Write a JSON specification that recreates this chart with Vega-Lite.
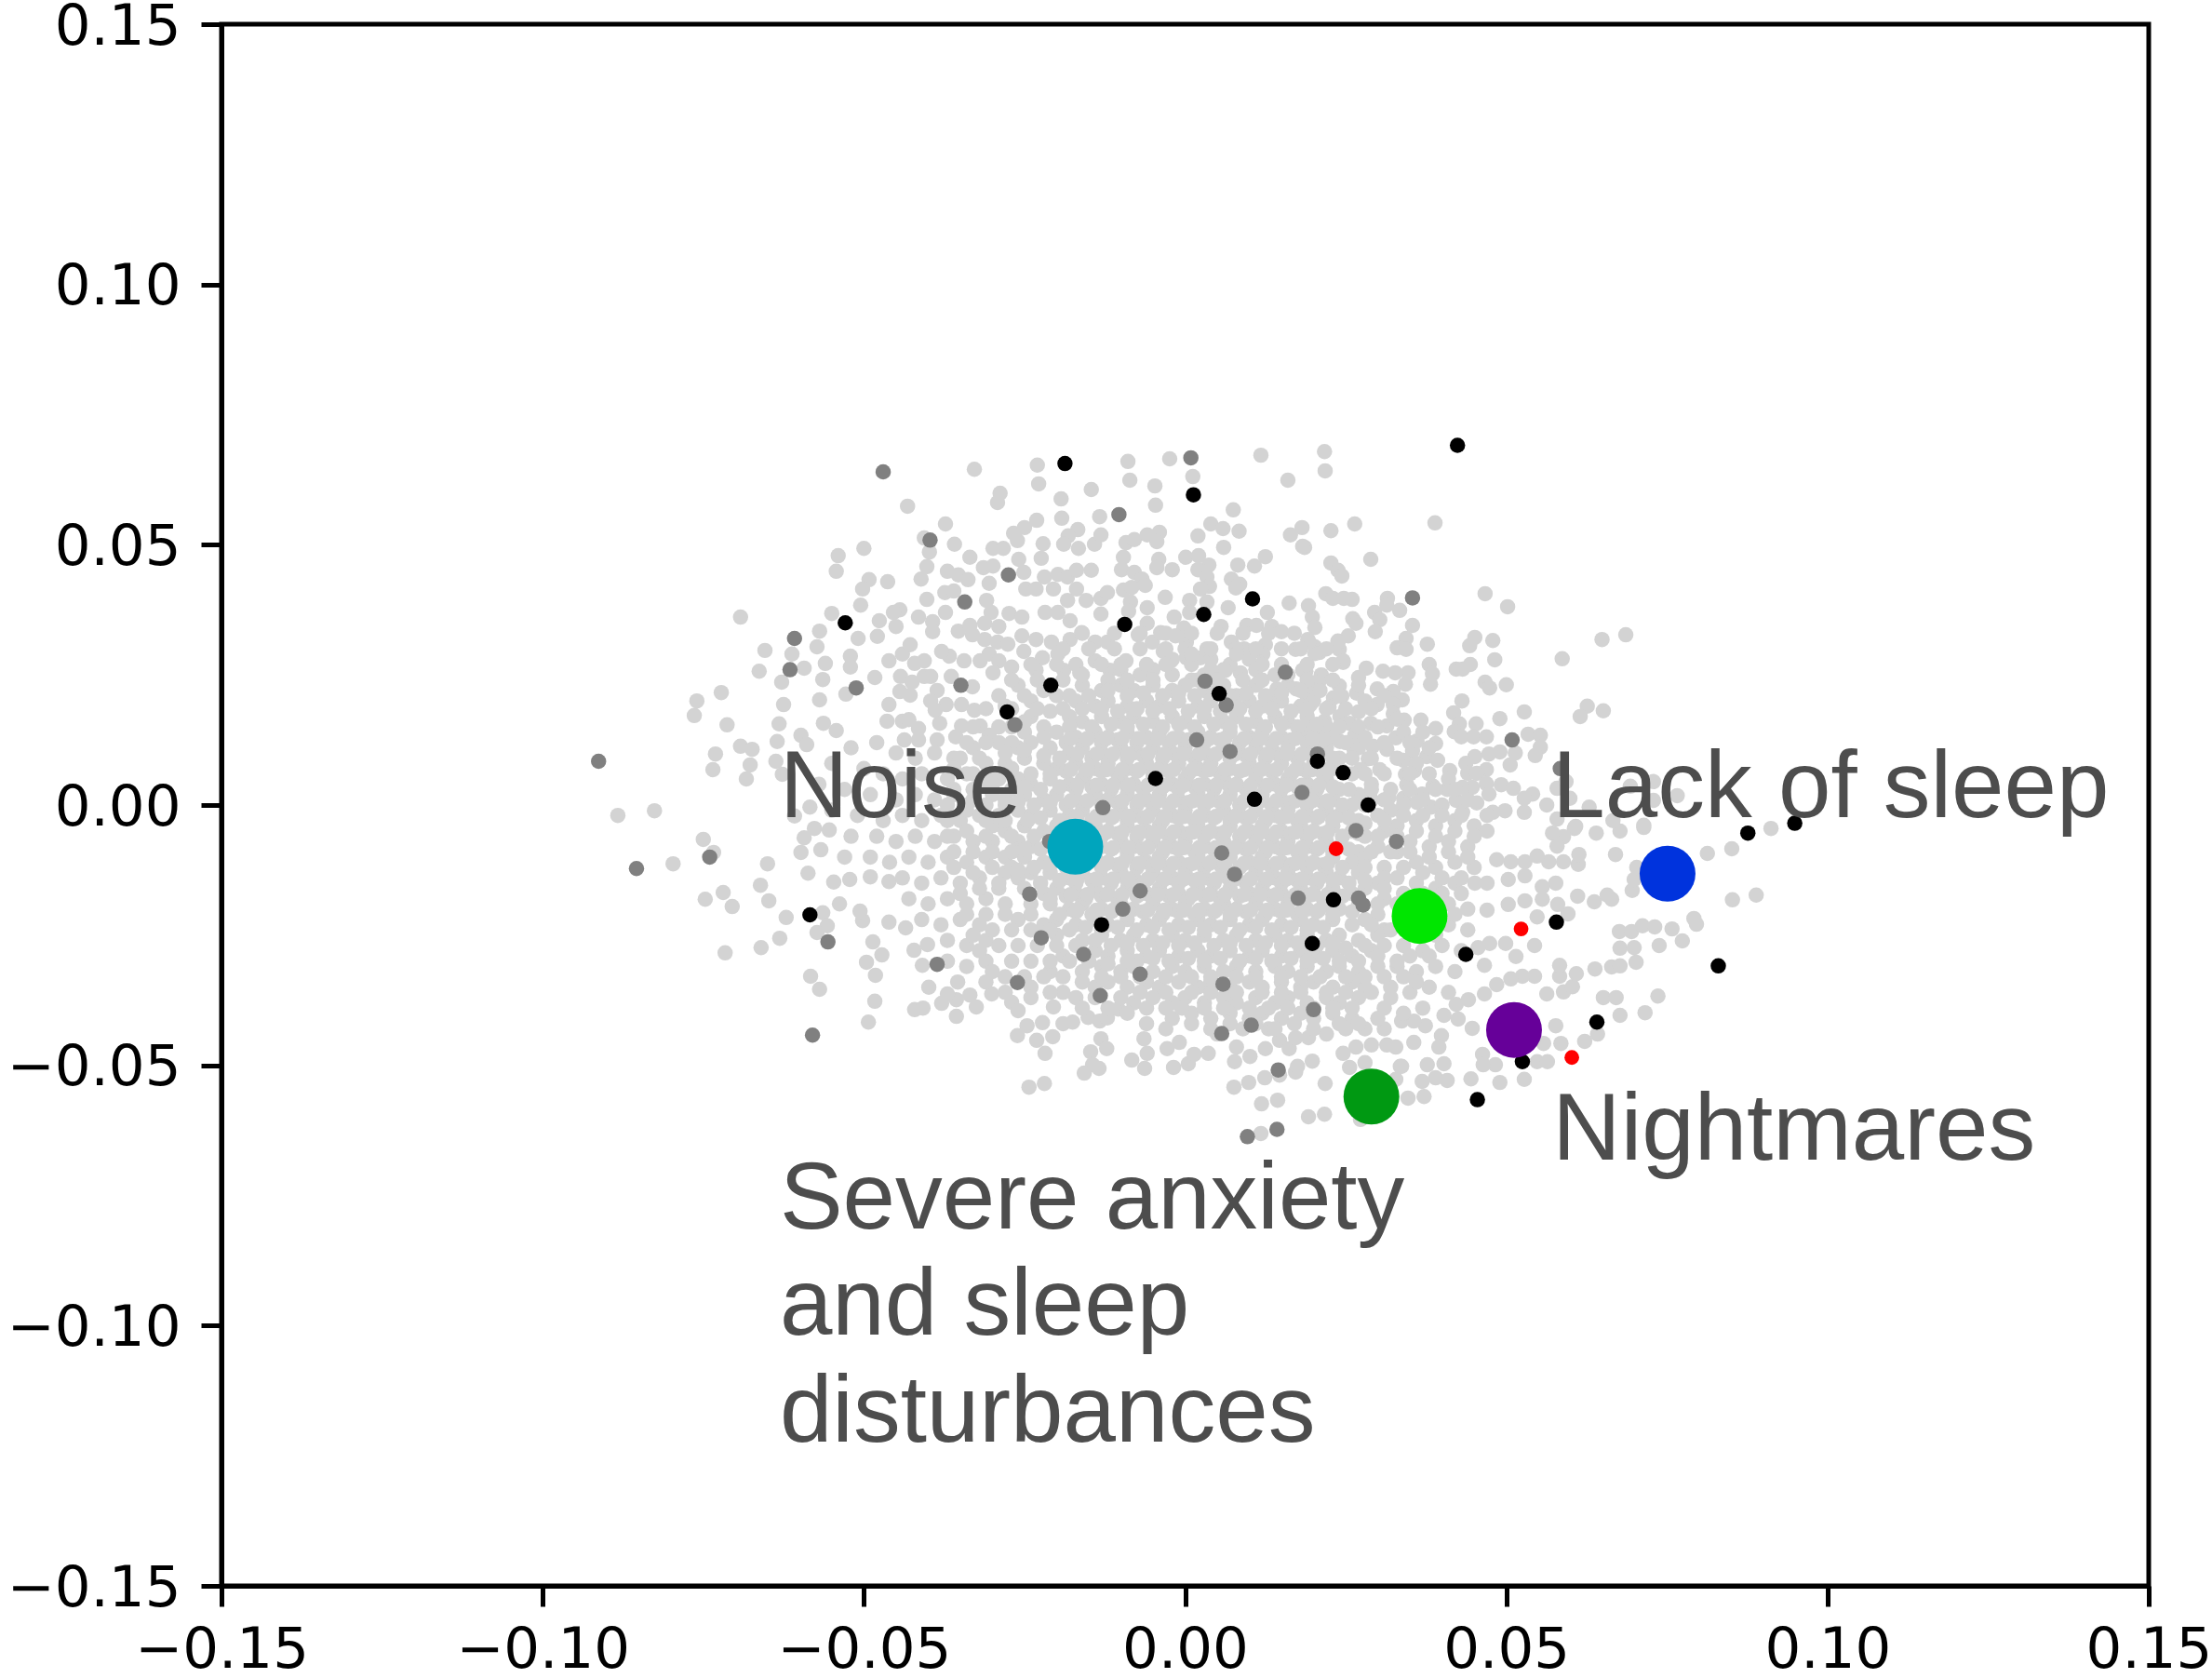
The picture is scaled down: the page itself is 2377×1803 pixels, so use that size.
{"$schema":"https://vega.github.io/schema/vega-lite/v6.json","width":2071,"height":1678,"autosize":"none","padding":{"left":238,"top":26,"right":68,"bottom":99},"background":"white","config":{"view":{"stroke":"#000000","strokeWidth":5}},
"datasets":{
"light":[
{"x":-0.0692,"y":0.0361},{"x":-0.05,"y":0.0493},{"x":-0.054,"y":0.0479},{"x":-0.0543,"y":0.0449},{"x":-0.0432,"y":0.0574},{"x":-0.0328,"y":0.0645},{"x":-0.023,"y":0.0653},{"x":-0.0228,"y":0.0617},{"x":-0.0288,"y":0.0599},{"x":-0.0292,"y":0.0581},{"x":-0.0146,"y":0.0606},{"x":-0.0193,"y":0.0588},{"x":-0.0089,"y":0.066},{"x":-0.0086,"y":0.0624},{"x":-0.0024,"y":0.0665},{"x":0.0012,"y":0.0631},{"x":-0.0047,"y":0.0613},{"x":-0.0046,"y":0.0576},{"x":-0.0373,"y":0.054},{"x":-0.0231,"y":0.0547},{"x":-0.0192,"y":0.0551},{"x":-0.0133,"y":0.0554},{"x":-0.0406,"y":0.0513},{"x":-0.0398,"y":0.0486},{"x":-0.0359,"y":0.0501},{"x":-0.0335,"y":0.0476},{"x":-0.0402,"y":0.0458},{"x":-0.0411,"y":0.0434},{"x":-0.0463,"y":0.0429},{"x":-0.0492,"y":0.0433},{"x":-0.0502,"y":0.0415},{"x":-0.0505,"y":0.0384},{"x":-0.0402,"y":0.0395},{"x":-0.055,"y":0.0368},{"x":-0.0476,"y":0.0354},{"x":-0.0569,"y":0.0334},{"x":-0.0509,"y":0.032},{"x":-0.0479,"y":0.0324},{"x":-0.0573,"y":0.0304},{"x":-0.0654,"y":0.0297},{"x":-0.0612,"y":0.029},{"x":-0.0593,"y":0.0263},{"x":-0.0663,"y":0.0257},{"x":-0.056,"y":0.0272},{"x":-0.0521,"y":0.0286},{"x":-0.0521,"y":0.0265},{"x":-0.0628,"y":0.0236},{"x":-0.0564,"y":0.0241},{"x":-0.0483,"y":0.0245},{"x":-0.0722,"y":0.0216},{"x":-0.076,"y":0.02},{"x":-0.0764,"y":0.0172},{"x":-0.0713,"y":0.0154},{"x":-0.0625,"y":0.0193},{"x":-0.0569,"y":0.0202},{"x":-0.0528,"y":0.0213},{"x":-0.0632,"y":0.0156},{"x":-0.0563,"y":0.0157},{"x":-0.0543,"y":0.0143},{"x":-0.0635,"y":0.0122},{"x":-0.0598,"y":0.0134},{"x":-0.0589,"y":0.0116},{"x":-0.0692,"y":0.0113},{"x":-0.0674,"y":0.0107},{"x":-0.0731,"y":0.0098},{"x":-0.0735,"y":0.0068},{"x":-0.0677,"y":0.0077},{"x":-0.0683,"y":0.005},{"x":-0.0637,"y":0.0084},{"x":-0.0627,"y":0.0059},{"x":-0.0826,"y":-0.0011},{"x":-0.0883,"y":-0.002},{"x":-0.075,"y":-0.0066},{"x":-0.0734,"y":-0.0091},{"x":-0.0797,"y":-0.0113},{"x":-0.065,"y":-0.0113},{"x":-0.0593,"y":-0.0063},{"x":-0.0567,"y":-0.0086},{"x":-0.0598,"y":-0.0091},{"x":-0.0587,"y":-0.0131},{"x":-0.0608,"y":-0.0021},{"x":-0.0584,"y":-0.0004},{"x":-0.0577,"y":-0.0045},{"x":-0.0554,"y":-0.0048},
{"x":-0.0661,"y":-0.0154},{"x":-0.0719,"y":-0.0168},{"x":-0.0747,"y":-0.0181},{"x":-0.0705,"y":-0.0195},{"x":-0.0648,"y":-0.0184},{"x":-0.0621,"y":-0.0216},{"x":-0.0564,"y":-0.0207},{"x":-0.0557,"y":-0.0232},{"x":-0.0573,"y":-0.0245},{"x":-0.0631,"y":-0.0256},{"x":-0.066,"y":-0.0274},{"x":-0.0716,"y":-0.0284},{"x":-0.0583,"y":-0.0329},{"x":-0.0569,"y":-0.0354},{"x":-0.0496,"y":-0.0302},{"x":-0.0482,"y":-0.0327},{"x":-0.0483,"y":-0.0377},{"x":-0.0493,"y":-0.0417},{"x":-0.0472,"y":-0.0288},{"x":-0.0486,"y":-0.0263},{"x":-0.0461,"y":-0.0225},{"x":-0.0435,"y":-0.0236},{"x":-0.0538,"y":-0.019},{"x":-0.0502,"y":-0.0222},{"x":-0.0506,"y":-0.0204},{"x":-0.0547,"y":-0.0148},{"x":-0.0522,"y":-0.0143},{"x":-0.049,"y":-0.0138},{"x":-0.0461,"y":-0.0147},{"x":-0.0421,"y":-0.0393},{"x":-0.0408,"y":-0.039},{"x":-0.0379,"y":-0.0381},{"x":-0.0356,"y":-0.0374},{"x":-0.037,"y":-0.0363},{"x":-0.0325,"y":-0.0388},{"x":-0.0335,"y":-0.0365},{"x":-0.0356,"y":-0.0406},{"x":-0.0399,"y":-0.035},{"x":-0.0409,"y":-0.0308},{"x":-0.0301,"y":-0.0363},{"x":-0.0354,"y":-0.034},{"x":-0.0422,"y":-0.0279},{"x":-0.0401,"y":-0.0268},{"x":-0.027,"y":-0.0379},{"x":-0.026,"y":-0.0395},{"x":-0.0246,"y":-0.0424},{"x":-0.0261,"y":-0.0443},{"x":-0.0231,"y":-0.0452},{"x":-0.0206,"y":-0.0445},{"x":-0.0222,"y":-0.0418},{"x":-0.0218,"y":-0.0477},{"x":-0.0205,"y":-0.0388},{"x":-0.019,"y":-0.042},{"x":-0.0175,"y":-0.0417},{"x":-0.0151,"y":-0.0408},{"x":-0.0133,"y":-0.0415},{"x":-0.0121,"y":-0.0409},{"x":-0.0104,"y":-0.0392},{"x":-0.0131,"y":-0.0449},{"x":-0.0122,"y":-0.0468},{"x":-0.0147,"y":-0.0474},{"x":-0.0144,"y":-0.0499},{"x":-0.0134,"y":-0.0506},{"x":-0.0157,"y":-0.0515},{"x":-0.0083,"y":-0.049},{"x":-0.0063,"y":-0.0506},{"x":-0.0018,"y":-0.0504},{"x":0.0005,"y":-0.0497},{"x":-0.0059,"y":-0.0477},{"x":-0.0028,"y":-0.0468},{"x":-0.0064,"y":-0.0449},{"x":-0.0009,"y":-0.0456},{"x":-0.0243,"y":-0.0542},{"x":-0.0219,"y":-0.0535},
{"x":0.0036,"y":-0.0477},{"x":0.0014,"y":-0.0479},{"x":0.0077,"y":-0.0493},{"x":0.0101,"y":-0.0483},{"x":0.008,"y":-0.0465},{"x":0.0125,"y":-0.0468},{"x":0.0147,"y":-0.0452},{"x":0.0162,"y":-0.0468},{"x":0.0172,"y":-0.0447},{"x":0.0192,"y":-0.0447},{"x":0.0076,"y":-0.0542},{"x":0.0099,"y":-0.0533},{"x":0.0124,"y":-0.0524},{"x":0.0147,"y":-0.0519},{"x":0.0172,"y":-0.0513},{"x":0.0175,"y":-0.0502},{"x":0.0198,"y":-0.0492},{"x":0.0218,"y":-0.0535},{"x":0.0119,"y":-0.0574},{"x":0.0144,"y":-0.0567},{"x":0.0192,"y":-0.0599},{"x":0.0217,"y":-0.0594},{"x":0.0118,"y":-0.0631},{"x":0.0246,"y":-0.0477},{"x":0.0256,"y":-0.0504},{"x":0.028,"y":-0.0495},{"x":0.0335,"y":-0.0502},{"x":0.0328,"y":-0.0527},{"x":0.0347,"y":-0.0563},{"x":0.0273,"y":-0.0604},{"x":0.0266,"y":-0.0465},{"x":0.029,"y":-0.0461},{"x":0.0328,"y":-0.0465},{"x":0.0314,"y":-0.0461},
{"x":0.0372,"y":-0.056},{"x":0.0369,"y":-0.0531},{"x":0.039,"y":-0.0524},{"x":0.0408,"y":-0.0529},{"x":0.0445,"y":-0.0526},{"x":0.049,"y":-0.0533},{"x":0.0528,"y":-0.0527},{"x":0.0548,"y":-0.0493},{"x":0.0564,"y":-0.0493},{"x":0.0585,"y":-0.0458},{"x":0.0622,"y":-0.0454},{"x":0.0642,"y":-0.044},{"x":0.0577,"y":-0.0424},{"x":0.0558,"y":-0.0458},{"x":0.0677,"y":-0.0404},{"x":0.0716,"y":-0.0399},{"x":0.0736,"y":-0.0367},{"x":0.0651,"y":-0.037},{"x":0.0671,"y":-0.037},{"x":0.0463,"y":-0.0479},{"x":0.0483,"y":-0.0499},{"x":0.0464,"y":-0.0499},{"x":0.0447,"y":-0.0429},{"x":0.0399,"y":-0.0443},{"x":0.0395,"y":-0.0465},{"x":0.0374,"y":-0.0424},{"x":0.0356,"y":-0.0415},{"x":0.0337,"y":-0.0415},{"x":0.0356,"y":-0.0456},{"x":0.0337,"y":-0.0502},{"x":0.0377,"y":-0.0499},{"x":0.0403,"y":-0.0497},{"x":0.0563,"y":-0.0363},{"x":0.0544,"y":-0.0329},{"x":0.0525,"y":-0.0329},{"x":0.0507,"y":-0.0334},{"x":0.0485,"y":-0.0345},{"x":0.0466,"y":-0.0363},{"x":0.0441,"y":-0.0374},{"x":0.0422,"y":-0.0383},{"x":0.0403,"y":-0.0404},{"x":0.0425,"y":-0.0411},{"x":0.0589,"y":-0.0359},{"x":0.0603,"y":-0.0349},{"x":0.0609,"y":-0.0324},{"x":0.0583,"y":-0.0329},{"x":0.0583,"y":-0.0308},{"x":0.0638,"y":-0.0315},{"x":0.0664,"y":-0.0311},{"x":0.0677,"y":-0.0309},{"x":0.0702,"y":-0.0302},{"x":0.0677,"y":-0.0275},{"x":0.0699,"y":-0.0274},{"x":0.0738,"y":-0.027},{"x":0.0774,"y":-0.0261},{"x":0.0676,"y":-0.0243},{"x":0.0695,"y":-0.0243},{"x":0.0712,"y":-0.0232},{"x":0.0731,"y":-0.0234},{"x":0.0758,"y":-0.0238},{"x":0.0792,"y":-0.0218},{"x":0.0796,"y":-0.0229},{"x":0.0852,"y":-0.0182},{"x":0.0889,"y":-0.0173},{"x":0.0696,"y":-0.0164},{"x":0.0699,"y":-0.0143},{"x":0.0703,"y":-0.012},{"x":0.0611,"y":-0.0175},{"x":0.0637,"y":-0.0186},{"x":0.0657,"y":-0.0173},{"x":0.0664,"y":-0.0181},{"x":0.067,"y":-0.0095},{"x":0.0813,"y":-0.0093},{"x":0.0851,"y":-0.0084},{"x":0.0912,"y":-0.0045},{"x":0.0714,"y":-0.0043},{"x":0.064,"y":-0.0054},{"x":0.0677,"y":-0.005},{"x":0.0666,"y":-0.003},{"x":0.0606,"y":-0.0045},{"x":0.0589,"y":-0.0061},{"x":0.0572,"y":-0.0054},{"x":0.0579,"y":-0.0079},{"x":0.0612,"y":-0.0114},{"x":0.0613,"y":-0.0095},{"x":0.0589,"y":-0.0109},{"x":0.0566,"y":-0.0109},{"x":0.0548,"y":-0.0098},{"x":0.0529,"y":-0.0109},{"x":0.0507,"y":-0.0109},{"x":0.0485,"y":-0.0105},{"x":0.0577,"y":-0.015},{"x":0.0556,"y":-0.0157},{"x":0.0529,"y":-0.0136},{"x":0.0503,"y":-0.0143},{"x":0.047,"y":-0.015},{"x":0.0451,"y":-0.015},{"x":0.0556,"y":-0.0181},{"x":0.0529,"y":-0.0184},{"x":0.0503,"y":-0.0191},{"x":0.047,"y":-0.0202},{"x":0.0596,"y":-0.0209},{"x":0.058,"y":-0.0191},{"x":0.0548,"y":-0.0215},{"x":0.0544,"y":-0.027},{"x":0.0515,"y":-0.0291},{"x":0.0499,"y":-0.0266},{"x":0.0474,"y":-0.0266},{"x":0.0456,"y":-0.0274},{"x":0.0466,"y":-0.0308},
{"x":0.0289,"y":0.0472},{"x":0.0227,"y":0.0527},{"x":0.0264,"y":0.054},{"x":0.0389,"y":0.0542},{"x":0.0186,"y":0.0495},{"x":0.0227,"y":0.0465},{"x":0.0238,"y":0.0451},{"x":0.0244,"y":0.044},{"x":0.0467,"y":0.0406},{"x":0.0502,"y":0.0381},{"x":0.0219,"y":0.0406},{"x":0.023,"y":0.0397},{"x":0.0247,"y":0.0397},{"x":0.026,"y":0.0395},{"x":0.0315,"y":0.0397},{"x":0.0314,"y":0.0384},{"x":0.0334,"y":0.0374},{"x":0.0354,"y":0.0345},{"x":0.0192,"y":0.0383},{"x":0.0198,"y":0.0361},{"x":0.0202,"y":0.0341},{"x":0.0295,"y":0.037},{"x":0.0303,"y":0.0356},{"x":0.0296,"y":0.0333},{"x":0.0261,"y":0.0358},{"x":0.0266,"y":0.0349},{"x":0.0254,"y":0.0325},{"x":0.0238,"y":0.0315},{"x":0.024,"y":0.0299},{"x":0.0246,"y":0.0274},{"x":0.0191,"y":0.0318},{"x":0.0202,"y":0.0304},{"x":0.0209,"y":0.0293},{"x":0.0344,"y":0.032},{"x":0.033,"y":0.0302},{"x":0.0344,"y":0.0299},{"x":0.0377,"y":0.0309},{"x":0.0451,"y":0.0322},{"x":0.0443,"y":0.0306},{"x":0.0479,"y":0.0316},{"x":0.0482,"y":0.0279},{"x":0.0649,"y":0.0318},{"x":0.0686,"y":0.0327},{"x":0.0587,"y":0.0281},{"x":0.0422,"y":0.0261},{"x":0.0432,"y":0.0261},{"x":0.0444,"y":0.027},{"x":0.038,"y":0.027},{"x":0.0385,"y":0.0252},{"x":0.0382,"y":0.0232},{"x":0.0347,"y":0.0254},{"x":0.0343,"y":0.0232},{"x":0.0327,"y":0.0254},{"x":0.0308,"y":0.0257},{"x":0.0282,"y":0.0263},{"x":0.027,"y":0.0245},{"x":0.0212,"y":0.025},{"x":0.0206,"y":0.0236},{"x":0.0188,"y":0.0257},{"x":0.0467,"y":0.0236},{"x":0.0474,"y":0.0225},{"x":0.05,"y":0.0231},{"x":0.0431,"y":0.02},{"x":0.0418,"y":0.0177},{"x":0.0427,"y":0.0156},{"x":0.0419,"y":0.0141},{"x":0.043,"y":0.0131},{"x":0.0453,"y":0.0156},{"x":0.0449,"y":0.0131},{"x":0.0469,"y":0.0131},{"x":0.049,"y":0.0166},{"x":0.0528,"y":0.0179},{"x":0.0534,"y":0.0136},{"x":0.0553,"y":0.0134},{"x":0.0553,"y":0.0111},{"x":0.0545,"y":0.0095},{"x":0.0626,"y":0.019},{"x":0.0651,"y":0.0181},{"x":0.0615,"y":0.017},{"x":0.039,"y":0.0147},{"x":0.039,"y":0.0118},{"x":0.0367,"y":0.0163},{"x":0.0341,"y":0.0163},{"x":0.0361,"y":0.0123},{"x":0.0354,"y":0.0104},{"x":0.0376,"y":0.0093},{"x":0.0393,"y":0.0086},{"x":0.0412,"y":0.0066},{"x":0.0514,"y":0.01},{"x":0.049,"y":0.0102},{"x":0.0473,"y":0.0098},{"x":0.0451,"y":0.0093},{"x":0.0437,"y":0.008},{"x":0.0506,"y":0.0077},{"x":0.0469,"y":0.0068},{"x":0.044,"y":0.0061},{"x":0.0454,"y":0.0061},{"x":0.0469,"y":0.0041},{"x":0.0492,"y":0.0039},{"x":0.0511,"y":0.0032},{"x":0.0473,"y":0.0021},{"x":0.0447,"y":0.0034},{"x":0.0432,"y":0.0034},{"x":0.0408,"y":0.003},{"x":0.0386,"y":0.0036},{"x":0.0369,"y":0.0021},{"x":0.0361,"y":0.0005},{"x":0.0422,"y":0.0009},{"x":0.0454,"y":0.0004},{"x":0.0383,"y":-0.0004},{"x":0.0432,"y":-0.0014},{"x":0.0498,"y":-0.0011},{"x":0.0479,"y":-0.0014},{"x":0.0528,"y":-0.0014},{"x":0.0541,"y":0.0021},{"x":0.0528,"y":0.0013},{"x":0.0563,"y":0},{"x":0.0579,"y":0.0032},{"x":0.0593,"y":0.0045},{"x":0.0599,"y":0.0013},{"x":0.0693,"y":0.0036},{"x":0.0729,"y":0.0045},{"x":0.0766,"y":0.0018},{"x":0.0729,"y":0.0009},{"x":0.0629,"y":-0.0004},{"x":0.0714,"y":-0.0039},{"x":0.0579,"y":-0.0027},{"x":0.0608,"y":-0.0041},
{"x":0.0267,"y":0.0215},{"x":0.024,"y":0.0229},{"x":0.0231,"y":0.0206},{"x":0.0244,"y":0.0209},{"x":0.0224,"y":0.0188},{"x":0.0195,"y":0.0215},{"x":0.0195,"y":0.0193},{"x":0.0299,"y":0.0223},{"x":0.0324,"y":0.0218},{"x":0.0338,"y":0.0202},{"x":0.0299,"y":0.0193},{"x":0.0324,"y":0.0193},{"x":0.027,"y":0.0179},{"x":0.0241,"y":0.017},{"x":0.0256,"y":0.0157},{"x":0.0217,"y":0.0161},{"x":0.0193,"y":0.0152},{"x":0.0289,"y":0.0157},{"x":0.0324,"y":0.0175},{"x":0.0314,"y":0.0152},{"x":0.0328,"y":0.0129},{"x":0.0264,"y":0.0134},{"x":0.0241,"y":0.0122},{"x":0.0208,"y":0.0131},{"x":0.0263,"y":0.0107},{"x":0.0292,"y":0.0113},{"x":0.0314,"y":0.0107},{"x":0.0285,"y":0.0089},{"x":0.0303,"y":0.0068},{"x":0.034,"y":0.0086},{"x":0.0357,"y":0.0066},{"x":0.0343,"y":0.0059},{"x":0.0345,"y":0.0039},{"x":0.034,"y":0.0013},{"x":0.0317,"y":0.0014},{"x":0.0273,"y":0.0068},
{"x":-0.0299,"y":0.0493},{"x":-0.0283,"y":0.0493},{"x":-0.0259,"y":0.0472},{"x":-0.0224,"y":0.0474},{"x":-0.0221,"y":0.0502},{"x":-0.0261,"y":0.0508},{"x":-0.0267,"y":0.0522},{"x":-0.025,"y":0.0533},{"x":-0.0167,"y":0.0529},{"x":-0.0182,"y":0.0517},{"x":-0.0189,"y":0.0501},{"x":-0.0166,"y":0.0493},{"x":-0.0141,"y":0.0501},{"x":-0.0131,"y":0.0519},{"x":-0.0092,"y":0.0504},{"x":-0.0079,"y":0.051},{"x":-0.0059,"y":0.0519},{"x":-0.004,"y":0.0524},{"x":-0.0044,"y":0.0506},{"x":-0.0096,"y":0.0476},{"x":-0.0099,"y":0.0452},{"x":-0.0079,"y":0.0447},{"x":-0.0067,"y":0.0434},{"x":-0.0062,"y":0.0422},{"x":-0.0096,"y":0.0413},{"x":-0.0083,"y":0.0418},{"x":-0.0085,"y":0.039},{"x":-0.0088,"y":0.0372},{"x":-0.0059,"y":0.0379},{"x":0.0001,"y":0.0476},{"x":0.0021,"y":0.0479},{"x":-0.0041,"y":0.0472},{"x":-0.0044,"y":0.0456},{"x":-0.002,"y":0.0452},{"x":0.002,"y":0.0517},{"x":0.004,"y":0.054},{"x":0.0059,"y":0.0531},{"x":0.0075,"y":0.0567},{"x":0.0084,"y":0.0526},{"x":0.006,"y":0.0495},{"x":0.0118,"y":0.0672},{"x":0.0217,"y":0.0679},{"x":0.0218,"y":0.0642},{"x":0.016,"y":0.0624},{"x":0.0182,"y":0.0533},{"x":0.0164,"y":0.0519},{"x":0.0183,"y":0.0497},{"x":0.0125,"y":0.0477},{"x":0.0108,"y":0.0459},{"x":0.0082,"y":0.0461},{"x":0.0037,"y":0.0461},{"x":0.002,"y":0.0452},{"x":0.0034,"y":0.0438},{"x":0.0038,"y":0.042},{"x":0.0024,"y":0.0415},{"x":0.0007,"y":0.0393},{"x":0.0034,"y":0.039},{"x":0.0007,"y":0.037},{"x":0.0067,"y":0.0379},{"x":0.0072,"y":0.0434},{"x":0.0085,"y":0.0424},{"x":0.0079,"y":0.0417},{"x":0.0162,"y":0.0388},{"x":0.0128,"y":0.037},{"x":0.0096,"y":0.0345},{"x":0.0111,"y":0.0345},{"x":0.0135,"y":0.0343},{"x":0.015,"y":0.0333},
{"x":-0.0314,"y":0.0456},{"x":-0.0299,"y":0.0459},{"x":-0.037,"y":0.0449},{"x":-0.0353,"y":0.0442},{"x":-0.0338,"y":0.0433},{"x":-0.0251,"y":0.0447},{"x":-0.0219,"y":0.0438},{"x":-0.0198,"y":0.0443},{"x":-0.0183,"y":0.0438},{"x":-0.0169,"y":0.0451},{"x":-0.0146,"y":0.0451},{"x":-0.0205,"y":0.0415},{"x":-0.0169,"y":0.0415},{"x":-0.0248,"y":0.0415},{"x":-0.0232,"y":0.0415},{"x":-0.0305,"y":0.0426},{"x":-0.0309,"y":0.0393},{"x":-0.0302,"y":0.037},{"x":-0.0274,"y":0.0368},{"x":-0.0374,"y":0.0408},{"x":-0.036,"y":0.0411},{"x":-0.0373,"y":0.037},{"x":-0.0415,"y":0.0361},{"x":-0.0444,"y":0.0375},{"x":-0.0454,"y":0.037},{"x":-0.0393,"y":0.0352},{"x":-0.0393,"y":0.0333},{"x":-0.045,"y":0.0343},{"x":-0.0353,"y":0.0334},{"x":-0.0335,"y":0.0345},{"x":-0.0312,"y":0.0349},{"x":-0.029,"y":0.0343},{"x":-0.0331,"y":0.0327},{"x":-0.0312,"y":0.0318},{"x":-0.0292,"y":0.0313},{"x":-0.0276,"y":0.0309},{"x":-0.0254,"y":0.0361},{"x":-0.0254,"y":0.0325},{"x":-0.0232,"y":0.0318},{"x":-0.0218,"y":0.037},{"x":-0.0198,"y":0.037},{"x":-0.0183,"y":0.0393},{"x":-0.0179,"y":0.0354},{"x":-0.0154,"y":0.0393},{"x":-0.0131,"y":0.0397},{"x":-0.0131,"y":0.0367},{"x":-0.0121,"y":0.0408},{"x":-0.0161,"y":0.0331},{"x":-0.0208,"y":0.0313},{"x":-0.0179,"y":0.0318},{"x":-0.014,"y":0.0313},{"x":-0.0121,"y":0.0313},{"x":-0.0073,"y":0.0327},{"x":-0.0051,"y":0.0313},{"x":-0.0059,"y":0.0349},{"x":-0.0038,"y":0.0331},{"x":-0.0031,"y":0.0399},{"x":-0.0017,"y":0.0361},{"x":-0.0002,"y":0.034},{"x":-0.0015,"y":0.0325},{"x":0.0002,"y":0.0313},{"x":0.0034,"y":0.03},{"x":0.0056,"y":0.0343},{"x":0.0072,"y":0.0313},{"x":0.0092,"y":0.03},{"x":0.0125,"y":0.0308},{"x":0.0172,"y":0.0299},{"x":0.0121,"y":0.029},{"x":0.0202,"y":0.0291},{"x":0.0193,"y":0.0313},{"x":0.0238,"y":0.0313},{"x":0.0246,"y":0.0277},{"x":0.0212,"y":0.0247},{"x":0.0183,"y":0.0259},{"x":0.0208,"y":0.0236},{"x":0.0173,"y":0.0223},{"x":0.0143,"y":0.0223},{"x":0.0115,"y":0.0236},{"x":0.0086,"y":0.0254},{"x":0.0063,"y":0.0259},{"x":0.0024,"y":0.0283},{"x":0.0002,"y":0.0283},{"x":-0.0034,"y":0.0295},{"x":-0.0022,"y":0.0277},{"x":-0.0059,"y":0.0259},{"x":-0.0092,"y":0.0277},{"x":-0.0117,"y":0.0259},{"x":-0.014,"y":0.0277},{"x":-0.0164,"y":0.0254},{"x":-0.0198,"y":0.029},{"x":-0.0189,"y":0.0259},{"x":-0.0222,"y":0.0283},{"x":-0.0251,"y":0.0295},{"x":-0.0232,"y":0.0259},{"x":-0.0305,"y":0.029},{"x":-0.0319,"y":0.0277},{"x":-0.029,"y":0.0277},{"x":-0.027,"y":0.0265},{"x":-0.0299,"y":0.0254},{"x":-0.0344,"y":0.0277},{"x":-0.0367,"y":0.0286},{"x":-0.0379,"y":0.0295},{"x":-0.0406,"y":0.0277},{"x":-0.0421,"y":0.0272},{"x":-0.044,"y":0.029},{"x":-0.0428,"y":0.0308},{"x":-0.0461,"y":0.0277},{"x":-0.0443,"y":0.0247},{"x":-0.0406,"y":0.0247},{"x":-0.0396,"y":0.0247},{"x":-0.0425,"y":0.0236},{"x":-0.0444,"y":0.0218},{"x":-0.0428,"y":0.0211},{"x":-0.0386,"y":0.022},{"x":-0.0364,"y":0.0247},{"x":-0.0331,"y":0.0227},{"x":-0.0396,"y":0.02},{"x":-0.0372,"y":0.0193},{"x":-0.0348,"y":0.0193},{"x":-0.0461,"y":0.0193},{"x":-0.0389,"y":0.0182},{"x":-0.044,"y":0.0161},{"x":-0.0415,"y":0.0147},{"x":-0.043,"y":0.0164},{"x":-0.0464,"y":0.0161},{"x":-0.0382,"y":0.0157},{"x":-0.0328,"y":0.0182},{"x":-0.0348,"y":0.0152},{"x":-0.0319,"y":0.0152},{"x":-0.0437,"y":0.0125},{"x":-0.0415,"y":0.0125},{"x":-0.0386,"y":0.0125},{"x":-0.0357,"y":0.0131},{"x":-0.0305,"y":0.0134},
{"x":-0.052,"y":0.011},{"x":-0.048,"y":0.012},{"x":-0.045,"y":0.01},{"x":-0.042,"y":0.009},{"x":-0.039,"y":0.01},{"x":-0.036,"y":0.009},{"x":-0.033,"y":0.011},{"x":-0.031,"y":0.008},{"x":-0.055,"y":0.008},{"x":-0.05,"y":0.007},{"x":-0.047,"y":0.006},{"x":-0.044,"y":0.005},{"x":-0.041,"y":0.006},{"x":-0.037,"y":0.005},{"x":-0.034,"y":0.006},{"x":-0.031,"y":0.004},{"x":-0.057,"y":0.004},{"x":-0.053,"y":0.003},{"x":-0.049,"y":0.002},{"x":-0.045,"y":0.001},{"x":-0.042,"y":0.002},{"x":-0.039,"y":0.001},{"x":-0.036,"y":0.002},{"x":-0.033,"y":0.001},{"x":-0.055,"y":-0.001},{"x":-0.051,"y":-0.002},{"x":-0.047,"y":-0.003},{"x":-0.044,"y":-0.002},{"x":-0.041,"y":-0.003},{"x":-0.038,"y":-0.002},{"x":-0.035,"y":-0.003},{"x":-0.032,"y":-0.002},{"x":-0.052,"y":-0.006},{"x":-0.048,"y":-0.006},{"x":-0.045,"y":-0.007},{"x":-0.042,"y":-0.006},{"x":-0.039,"y":-0.007},{"x":-0.036,"y":-0.006},{"x":-0.033,"y":-0.007},{"x":-0.053,"y":-0.01},{"x":-0.049,"y":-0.01},{"x":-0.046,"y":-0.011},{"x":-0.043,"y":-0.01},{"x":-0.04,"y":-0.011},{"x":-0.037,"y":-0.01},{"x":-0.034,"y":-0.011},{"x":-0.031,"y":-0.01},{"x":-0.044,"y":-0.014},{"x":-0.041,"y":-0.015},{"x":-0.038,"y":-0.014},{"x":-0.035,"y":-0.015},{"x":-0.032,"y":-0.014},{"x":-0.043,"y":-0.018},{"x":-0.04,"y":-0.019},{"x":-0.037,"y":-0.018},{"x":-0.034,"y":-0.019},{"x":-0.031,"y":-0.018},{"x":-0.041,"y":-0.022},{"x":-0.038,"y":-0.023},{"x":-0.035,"y":-0.022},{"x":-0.032,"y":-0.023},{"x":-0.037,"y":-0.026},{"x":-0.034,"y":-0.027},{"x":-0.031,"y":-0.026},{"x":-0.037,"y":-0.03},{"x":-0.034,"y":-0.031},{"x":-0.031,"y":-0.03},{"x":-0.031,"y":-0.034},{"x":-0.028,"y":-0.036},
{"x":0.036,"y":-0.003},{"x":0.039,"y":-0.004},{"x":0.042,"y":-0.003},{"x":0.045,"y":-0.004},{"x":0.047,"y":-0.005},{"x":0.035,"y":-0.007},{"x":0.038,"y":-0.008},{"x":0.041,"y":-0.007},{"x":0.044,"y":-0.008},{"x":0.036,"y":-0.011},{"x":0.039,"y":-0.012},{"x":0.042,"y":-0.011},{"x":0.045,"y":-0.012},{"x":0.036,"y":-0.015},{"x":0.039,"y":-0.016},{"x":0.042,"y":-0.015},{"x":0.035,"y":-0.019},{"x":0.038,"y":-0.02},{"x":0.041,"y":-0.019},{"x":0.044,"y":-0.02},{"x":0.035,"y":-0.023},{"x":0.038,"y":-0.024},{"x":0.041,"y":-0.023},{"x":0.044,"y":-0.024},{"x":0.034,"y":-0.027},{"x":0.037,"y":-0.028},{"x":0.04,"y":-0.027},{"x":0.043,"y":-0.028},{"x":0.033,"y":-0.031},{"x":0.036,"y":-0.032},{"x":0.039,"y":-0.031},{"x":0.042,"y":-0.032},{"x":0.032,"y":-0.035},{"x":0.035,"y":-0.036},{"x":0.038,"y":-0.035},{"x":0.041,"y":-0.036},{"x":0.031,"y":-0.039},{"x":0.034,"y":-0.04},{"x":0.037,"y":-0.039},{"x":0.028,"y":-0.043},{"x":0.031,"y":-0.043},
{"x":-0.002,"y":0.028},{"x":0.001,"y":0.027},{"x":0.004,"y":0.028},{"x":0.007,"y":0.027},{"x":0.01,"y":0.028},{"x":-0.01,"y":0.026},{"x":-0.007,"y":0.025},{"x":-0.005,"y":0.026},{"x":-0.002,"y":0.025},{"x":0.001,"y":0.024},{"x":0.003,"y":0.025},{"x":0.006,"y":0.026},{"x":0.009,"y":0.024},{"x":0.011,"y":0.026},{"x":0.014,"y":0.025},{"x":-0.016,"y":0.023},{"x":-0.013,"y":0.022},{"x":-0.01,"y":0.023},{"x":-0.008,"y":0.022},{"x":-0.005,"y":0.023},{"x":-0.002,"y":0.022},{"x":0,"y":0.023},{"x":0.003,"y":0.022},{"x":0.006,"y":0.023},{"x":0.008,"y":0.021},{"x":0.011,"y":0.023},{"x":0.014,"y":0.021},{"x":0.016,"y":0.023},{"x":0.019,"y":0.021},{"x":-0.02,"y":0.021},{"x":-0.017,"y":0.02},{"x":-0.014,"y":0.019},{"x":-0.012,"y":0.02},{"x":-0.009,"y":0.019},{"x":-0.006,"y":0.02},{"x":-0.004,"y":0.019},{"x":-0.001,"y":0.02},{"x":0.002,"y":0.019},{"x":0.004,"y":0.02},{"x":0.007,"y":0.019},{"x":0.01,"y":0.02},{"x":0.012,"y":0.019},{"x":0.015,"y":0.02},{"x":0.018,"y":0.019},{"x":0.02,"y":0.02},{"x":-0.026,"y":0.023},{"x":-0.024,"y":0.02},{"x":-0.028,"y":0.019},{"x":-0.024,"y":0.017},{"x":-0.021,"y":0.018},{"x":-0.018,"y":0.017},{"x":-0.016,"y":0.016},{"x":-0.013,"y":0.017},{"x":-0.01,"y":0.016},{"x":-0.008,"y":0.017},{"x":-0.005,"y":0.016},{"x":-0.002,"y":0.017},{"x":0,"y":0.016},{"x":0.003,"y":0.017},{"x":0.006,"y":0.016},{"x":0.008,"y":0.017},{"x":0.011,"y":0.016},{"x":0.014,"y":0.017},{"x":0.016,"y":0.016},{"x":0.019,"y":0.017},{"x":0.022,"y":0.015},{"x":-0.027,"y":0.015},{"x":-0.025,"y":0.014},{"x":-0.022,"y":0.015},{"x":-0.02,"y":0.014},{"x":-0.017,"y":0.013},{"x":-0.014,"y":0.014},{"x":-0.012,"y":0.013},{"x":-0.009,"y":0.014},{"x":-0.006,"y":0.013},{"x":-0.004,"y":0.014},{"x":-0.001,"y":0.013},{"x":0.002,"y":0.014},{"x":0.004,"y":0.013},{"x":0.007,"y":0.014},{"x":0.01,"y":0.013},{"x":0.012,"y":0.014},{"x":0.015,"y":0.013},{"x":0.018,"y":0.014},{"x":0.02,"y":0.012},{"x":0.023,"y":0.013},{"x":-0.029,"y":0.012},{"x":-0.026,"y":0.011},{"x":-0.024,"y":0.012},{"x":-0.021,"y":0.011},{"x":-0.018,"y":0.01},{"x":-0.016,"y":0.011},{"x":-0.013,"y":0.01},{"x":-0.01,"y":0.011},{"x":-0.008,"y":0.01},{"x":-0.005,"y":0.011},{"x":-0.002,"y":0.01},{"x":0,"y":0.011},{"x":0.003,"y":0.01},{"x":0.006,"y":0.011},{"x":0.008,"y":0.01},{"x":0.011,"y":0.011},{"x":0.014,"y":0.01},{"x":0.016,"y":0.011},{"x":0.019,"y":0.01},{"x":0.022,"y":0.011},{"x":0.024,"y":0.009},{"x":0.027,"y":0.011},{"x":-0.028,"y":0.008},{"x":-0.025,"y":0.009},{"x":-0.022,"y":0.008},{"x":-0.02,"y":0.007},{"x":-0.017,"y":0.008},{"x":-0.014,"y":0.007},{"x":-0.012,"y":0.008},{"x":-0.009,"y":0.007},{"x":-0.006,"y":0.008},{"x":-0.004,"y":0.007},{"x":-0.001,"y":0.008},{"x":0.002,"y":0.007},{"x":0.004,"y":0.008},{"x":0.007,"y":0.007},{"x":0.01,"y":0.008},{"x":0.012,"y":0.007},{"x":0.015,"y":0.008},{"x":0.018,"y":0.007},{"x":0.02,"y":0.008},{"x":0.023,"y":0.007},{"x":0.026,"y":0.006},{"x":0.029,"y":0.004},{"x":-0.029,"y":0.005},{"x":-0.026,"y":0.005},{"x":-0.024,"y":0.004},{"x":-0.021,"y":0.005},{"x":-0.018,"y":0.004},{"x":-0.016,"y":0.005},{"x":-0.013,"y":0.004},{"x":-0.01,"y":0.005},{"x":-0.008,"y":0.004},{"x":-0.005,"y":0.005},{"x":-0.002,"y":0.004},{"x":0,"y":0.005},{"x":0.003,"y":0.004},{"x":0.006,"y":0.005},{"x":0.008,"y":0.004},{"x":0.011,"y":0.005},{"x":0.014,"y":0.004},{"x":0.016,"y":0.005},{"x":0.019,"y":0.004},{"x":0.022,"y":0.005},{"x":0.024,"y":0.003},{"x":0.027,"y":0.002},{"x":-0.03,"y":0.002},{"x":-0.028,"y":0.001},{"x":-0.025,"y":0.002},{"x":-0.022,"y":0.001},{"x":-0.02,"y":0.002},{"x":-0.017,"y":0.001},{"x":-0.014,"y":0.002},{"x":-0.012,"y":0.001},{"x":-0.009,"y":0.002},{"x":-0.006,"y":0.001},{"x":-0.004,"y":0.002},{"x":-0.001,"y":0.001},{"x":0.002,"y":0.002},{"x":0.004,"y":0.001},{"x":0.007,"y":0.002},{"x":0.01,"y":0.001},{"x":0.012,"y":0.002},{"x":0.015,"y":0.001},{"x":0.018,"y":0.002},{"x":0.02,"y":0.001},{"x":0.023,"y":0.001},{"x":0.026,"y":0},{"x":0.029,"y":0.001},{"x":0.032,"y":-0.001},{"x":-0.029,"y":-0.002},{"x":-0.026,"y":-0.001},{"x":-0.024,"y":-0.002},{"x":-0.021,"y":-0.001},{"x":-0.018,"y":-0.002},{"x":-0.016,"y":-0.001},{"x":-0.013,"y":-0.002},{"x":-0.01,"y":-0.001},{"x":-0.008,"y":-0.002},{"x":-0.005,"y":-0.001},{"x":-0.002,"y":-0.002},{"x":0,"y":-0.001},{"x":0.003,"y":-0.002},{"x":0.006,"y":-0.001},{"x":0.008,"y":-0.002},{"x":0.011,"y":-0.001},{"x":0.014,"y":-0.002},{"x":0.016,"y":-0.001},{"x":0.019,"y":-0.002},{"x":0.022,"y":-0.001},{"x":0.024,"y":-0.002},{"x":0.027,"y":-0.003},{"x":0.03,"y":-0.002},{"x":0.033,"y":-0.004},{"x":-0.03,"y":-0.004},{"x":-0.028,"y":-0.005},{"x":-0.025,"y":-0.004},{"x":-0.022,"y":-0.005},{"x":-0.02,"y":-0.004},{"x":-0.017,"y":-0.005},{"x":-0.014,"y":-0.004},{"x":-0.012,"y":-0.005},{"x":-0.009,"y":-0.004},{"x":-0.006,"y":-0.005},{"x":-0.004,"y":-0.004},{"x":-0.001,"y":-0.005},{"x":0.002,"y":-0.004},{"x":0.004,"y":-0.005},{"x":0.007,"y":-0.004},{"x":0.01,"y":-0.005},{"x":0.012,"y":-0.004},{"x":0.015,"y":-0.005},{"x":0.018,"y":-0.004},{"x":0.02,"y":-0.005},{"x":0.023,"y":-0.004},{"x":0.026,"y":-0.005},{"x":0.028,"y":-0.006},{"x":0.031,"y":-0.005},{"x":-0.03,"y":-0.007},{"x":-0.026,"y":-0.007},{"x":-0.024,"y":-0.008},{"x":-0.021,"y":-0.007},{"x":-0.018,"y":-0.008},{"x":-0.016,"y":-0.007},{"x":-0.013,"y":-0.008},{"x":-0.01,"y":-0.007},{"x":-0.008,"y":-0.008},{"x":-0.005,"y":-0.007},{"x":-0.002,"y":-0.008},{"x":0,"y":-0.007},{"x":0.003,"y":-0.008},{"x":0.006,"y":-0.007},{"x":0.008,"y":-0.008},{"x":0.011,"y":-0.007},{"x":0.014,"y":-0.008},{"x":0.016,"y":-0.007},{"x":0.019,"y":-0.008},{"x":0.022,"y":-0.007},{"x":0.024,"y":-0.008},{"x":0.027,"y":-0.009},{"x":0.03,"y":-0.008},{"x":0.033,"y":-0.009},{"x":-0.028,"y":-0.01},{"x":-0.025,"y":-0.01},{"x":-0.022,"y":-0.011},{"x":-0.02,"y":-0.01},{"x":-0.017,"y":-0.011},{"x":-0.014,"y":-0.01},{"x":-0.012,"y":-0.011},{"x":-0.009,"y":-0.01},{"x":-0.006,"y":-0.011},{"x":-0.004,"y":-0.01},{"x":-0.001,"y":-0.011},{"x":0.002,"y":-0.01},{"x":0.004,"y":-0.011},{"x":0.007,"y":-0.01},{"x":0.01,"y":-0.011},{"x":0.012,"y":-0.01},{"x":0.015,"y":-0.011},{"x":0.018,"y":-0.01},{"x":0.02,"y":-0.011},{"x":0.023,"y":-0.01},{"x":0.026,"y":-0.011},{"x":0.028,"y":-0.01},{"x":0.031,"y":-0.012},{"x":-0.028,"y":-0.013},{"x":-0.026,"y":-0.014},{"x":-0.024,"y":-0.013},{"x":-0.021,"y":-0.013},{"x":-0.018,"y":-0.014},{"x":-0.016,"y":-0.013},{"x":-0.013,"y":-0.014},{"x":-0.01,"y":-0.013},{"x":-0.008,"y":-0.014},{"x":-0.005,"y":-0.013},{"x":-0.002,"y":-0.014},{"x":0,"y":-0.013},{"x":0.003,"y":-0.014},{"x":0.006,"y":-0.013},{"x":0.008,"y":-0.014},{"x":0.011,"y":-0.013},{"x":0.014,"y":-0.014},{"x":0.016,"y":-0.013},{"x":0.019,"y":-0.014},{"x":0.022,"y":-0.013},{"x":0.024,"y":-0.014},{"x":0.027,"y":-0.013},{"x":0.03,"y":-0.015},{"x":0.033,"y":-0.014},{"x":-0.029,"y":-0.016},{"x":-0.025,"y":-0.016},{"x":-0.022,"y":-0.017},{"x":-0.02,"y":-0.016},{"x":-0.017,"y":-0.017},{"x":-0.014,"y":-0.016},{"x":-0.012,"y":-0.017},{"x":-0.009,"y":-0.016},{"x":-0.006,"y":-0.017},{"x":-0.004,"y":-0.016},{"x":-0.001,"y":-0.017},{"x":0.002,"y":-0.016},{"x":0.004,"y":-0.017},{"x":0.007,"y":-0.016},{"x":0.01,"y":-0.017},{"x":0.012,"y":-0.016},{"x":0.015,"y":-0.017},{"x":0.018,"y":-0.016},{"x":0.02,"y":-0.017},{"x":0.023,"y":-0.016},{"x":0.026,"y":-0.017},{"x":0.028,"y":-0.016},{"x":0.031,"y":-0.018},{"x":-0.028,"y":-0.019},{"x":-0.024,"y":-0.019},{"x":-0.021,"y":-0.019},{"x":-0.018,"y":-0.02},{"x":-0.016,"y":-0.019},{"x":-0.013,"y":-0.02},{"x":-0.01,"y":-0.019},{"x":-0.008,"y":-0.02},{"x":-0.005,"y":-0.019},{"x":-0.002,"y":-0.02},{"x":0,"y":-0.019},{"x":0.003,"y":-0.02},{"x":0.006,"y":-0.019},{"x":0.008,"y":-0.02},{"x":0.011,"y":-0.019},{"x":0.014,"y":-0.02},{"x":0.016,"y":-0.019},{"x":0.019,"y":-0.02},{"x":0.022,"y":-0.019},{"x":0.024,"y":-0.02},{"x":0.027,"y":-0.019},{"x":0.03,"y":-0.021},{"x":-0.026,"y":-0.022},{"x":-0.022,"y":-0.023},{"x":-0.02,"y":-0.022},{"x":-0.017,"y":-0.023},{"x":-0.014,"y":-0.022},{"x":-0.012,"y":-0.023},{"x":-0.009,"y":-0.022},{"x":-0.006,"y":-0.023},{"x":-0.004,"y":-0.022},{"x":-0.001,"y":-0.023},{"x":0.002,"y":-0.022},{"x":0.004,"y":-0.023},{"x":0.007,"y":-0.022},{"x":0.01,"y":-0.023},{"x":0.012,"y":-0.022},{"x":0.015,"y":-0.023},{"x":0.018,"y":-0.022},{"x":0.02,"y":-0.023},{"x":0.023,"y":-0.022},{"x":0.026,"y":-0.023},{"x":0.028,"y":-0.022},{"x":0.031,"y":-0.024},{"x":-0.02,"y":-0.025},{"x":-0.016,"y":-0.026},{"x":-0.013,"y":-0.025},{"x":-0.01,"y":-0.026},{"x":-0.008,"y":-0.025},{"x":-0.005,"y":-0.026},{"x":-0.002,"y":-0.025},{"x":0,"y":-0.026},{"x":0.003,"y":-0.025},{"x":0.006,"y":-0.026},{"x":0.008,"y":-0.025},{"x":0.011,"y":-0.026},{"x":0.014,"y":-0.025},{"x":0.016,"y":-0.026},{"x":0.019,"y":-0.025},{"x":0.022,"y":-0.026},{"x":0.024,"y":-0.025},{"x":0.027,"y":-0.026},{"x":0.03,"y":-0.025},{"x":-0.019,"y":-0.029},{"x":-0.014,"y":-0.028},{"x":-0.012,"y":-0.029},{"x":-0.009,"y":-0.028},{"x":-0.006,"y":-0.029},{"x":-0.004,"y":-0.028},{"x":-0.001,"y":-0.029},{"x":0.002,"y":-0.028},{"x":0.004,"y":-0.029},{"x":0.007,"y":-0.028},{"x":0.01,"y":-0.029},{"x":0.012,"y":-0.028},{"x":0.015,"y":-0.029},{"x":0.018,"y":-0.028},{"x":0.02,"y":-0.029},{"x":0.023,"y":-0.028},{"x":0.026,"y":-0.029},{"x":0.029,"y":-0.028},{"x":-0.021,"y":-0.032},{"x":-0.016,"y":-0.032},{"x":-0.013,"y":-0.031},{"x":-0.01,"y":-0.032},{"x":-0.008,"y":-0.031},{"x":-0.005,"y":-0.032},{"x":-0.002,"y":-0.031},{"x":0,"y":-0.032},{"x":0.003,"y":-0.031},{"x":0.006,"y":-0.032},{"x":0.008,"y":-0.031},{"x":0.011,"y":-0.032},{"x":0.014,"y":-0.031},{"x":0.016,"y":-0.032},{"x":0.019,"y":-0.031},{"x":0.022,"y":-0.032},{"x":0.024,"y":-0.031},{"x":0.027,"y":-0.032},{"x":0.03,"y":-0.031},{"x":-0.024,"y":-0.035},{"x":-0.019,"y":-0.036},{"x":-0.014,"y":-0.035},{"x":-0.012,"y":-0.034},{"x":-0.009,"y":-0.035},{"x":-0.006,"y":-0.034},{"x":-0.004,"y":-0.035},{"x":-0.001,"y":-0.034},{"x":0.002,"y":-0.035},{"x":0.004,"y":-0.034},{"x":0.007,"y":-0.035},{"x":0.01,"y":-0.034},{"x":0.012,"y":-0.035},{"x":0.015,"y":-0.034},{"x":0.018,"y":-0.035},{"x":0.02,"y":-0.034},{"x":0.023,"y":-0.035},{"x":0.026,"y":-0.034},{"x":0.028,"y":-0.035},{"x":-0.008,"y":-0.038},{"x":-0.005,"y":-0.037},{"x":-0.002,"y":-0.038},{"x":0,"y":-0.037},{"x":0.003,"y":-0.038},{"x":0.006,"y":-0.037},{"x":0.008,"y":-0.038},{"x":0.011,"y":-0.037},{"x":0.014,"y":-0.038},{"x":0.016,"y":-0.037},{"x":0.019,"y":-0.038},{"x":0.022,"y":-0.037},{"x":0.024,"y":-0.038},{"x":0.027,"y":-0.037},{"x":-0.002,"y":-0.041},{"x":0.001,"y":-0.04},{"x":0.004,"y":-0.041},{"x":0.007,"y":-0.04},{"x":0.01,"y":-0.041},{"x":0.012,"y":-0.04},{"x":0.015,"y":-0.041},{"x":0.018,"y":-0.04},{"x":0.02,"y":-0.041},{"x":0.023,"y":-0.04},{"x":0.026,"y":-0.041},{"x":0.005,"y":-0.044},{"x":0.009,"y":-0.043},{"x":0.013,"y":-0.043},{"x":0.022,"y":-0.044},{"x":0.025,"y":-0.043},
{"x":-0.009,"y":0.021},{"x":-0.0065,"y":0.0215},{"x":-0.0035,"y":0.021},{"x":-0.001,"y":0.0215},{"x":0.0015,"y":0.021},{"x":0.0045,"y":0.0215},{"x":0.007,"y":0.021},{"x":0.0095,"y":0.0215},{"x":0.0125,"y":0.021},{"x":0.015,"y":0.0215},
{"x":-0.013,"y":0.0185},{"x":-0.0105,"y":0.018},{"x":-0.0075,"y":0.0185},{"x":-0.005,"y":0.018},{"x":-0.0025,"y":0.0185},{"x":0.0005,"y":0.018},{"x":0.003,"y":0.0185},{"x":0.0055,"y":0.018},{"x":0.0085,"y":0.0185},{"x":0.011,"y":0.018},{"x":0.0135,"y":0.0185},{"x":0.0165,"y":0.018},{"x":0.019,"y":0.0185},
{"x":-0.0145,"y":0.015},{"x":-0.0115,"y":0.0155},{"x":-0.009,"y":0.015},{"x":-0.0065,"y":0.0155},{"x":-0.0035,"y":0.015},{"x":-0.001,"y":0.0155},{"x":0.0015,"y":0.015},{"x":0.0045,"y":0.0155},{"x":0.007,"y":0.015},{"x":0.0095,"y":0.0155},{"x":0.0125,"y":0.015},{"x":0.015,"y":0.0155},{"x":0.0175,"y":0.015},{"x":0.0205,"y":0.0155},
{"x":-0.0185,"y":0.012},{"x":-0.0155,"y":0.0125},{"x":-0.013,"y":0.012},{"x":-0.0105,"y":0.0125},{"x":-0.0075,"y":0.012},{"x":-0.005,"y":0.0125},{"x":-0.0025,"y":0.012},{"x":0.0005,"y":0.0125},{"x":0.003,"y":0.012},{"x":0.0055,"y":0.0125},{"x":0.0085,"y":0.012},{"x":0.011,"y":0.0125},{"x":0.0135,"y":0.012},{"x":0.0165,"y":0.0125},{"x":0.019,"y":0.012},{"x":0.0215,"y":0.0125},
{"x":-0.0195,"y":0.009},{"x":-0.017,"y":0.0095},{"x":-0.0145,"y":0.009},{"x":-0.0115,"y":0.0095},{"x":-0.009,"y":0.009},{"x":-0.0065,"y":0.0095},{"x":-0.0035,"y":0.009},{"x":-0.001,"y":0.0095},{"x":0.0015,"y":0.009},{"x":0.0045,"y":0.0095},{"x":0.007,"y":0.009},{"x":0.0095,"y":0.0095},{"x":0.0125,"y":0.009},{"x":0.015,"y":0.0095},{"x":0.0175,"y":0.009},{"x":0.0205,"y":0.0095},{"x":0.023,"y":0.009},
{"x":-0.021,"y":0.006},{"x":-0.0185,"y":0.0065},{"x":-0.0155,"y":0.006},{"x":-0.013,"y":0.0065},{"x":-0.0105,"y":0.006},{"x":-0.0075,"y":0.0065},{"x":-0.005,"y":0.006},{"x":-0.0025,"y":0.0065},{"x":0.0005,"y":0.006},{"x":0.003,"y":0.0065},{"x":0.0055,"y":0.006},{"x":0.0085,"y":0.0065},{"x":0.011,"y":0.006},{"x":0.0135,"y":0.0065},{"x":0.0165,"y":0.006},{"x":0.019,"y":0.0065},{"x":0.0215,"y":0.006},{"x":0.0245,"y":0.0065},
{"x":-0.0225,"y":0.003},{"x":-0.0195,"y":0.0035},{"x":-0.017,"y":0.003},{"x":-0.0145,"y":0.0035},{"x":-0.0115,"y":0.003},{"x":-0.009,"y":0.0035},{"x":-0.0065,"y":0.003},{"x":-0.0035,"y":0.0035},{"x":-0.001,"y":0.003},{"x":0.0015,"y":0.0035},{"x":0.0045,"y":0.003},{"x":0.007,"y":0.0035},{"x":0.0095,"y":0.003},{"x":0.0125,"y":0.0035},{"x":0.015,"y":0.003},{"x":0.0175,"y":0.0035},{"x":0.0205,"y":0.003},{"x":0.023,"y":0.0035},{"x":0.0255,"y":0.003},
{"x":-0.0235,"y":0},{"x":-0.021,"y":0.0005},{"x":-0.0185,"y":0},{"x":-0.0155,"y":0.0005},{"x":-0.013,"y":0},{"x":-0.0105,"y":0.0005},{"x":-0.0075,"y":0},{"x":-0.005,"y":0.0005},{"x":-0.0025,"y":0},{"x":0.0005,"y":0.0005},{"x":0.003,"y":0},{"x":0.0055,"y":0.0005},{"x":0.0085,"y":0},{"x":0.011,"y":0.0005},{"x":0.0135,"y":0},{"x":0.0165,"y":0.0005},{"x":0.019,"y":0},{"x":0.0215,"y":0.0005},{"x":0.0245,"y":0},
{"x":-0.0245,"y":-0.003},{"x":-0.0225,"y":-0.0025},{"x":-0.0195,"y":-0.003},{"x":-0.017,"y":-0.0025},{"x":-0.0145,"y":-0.003},{"x":-0.0115,"y":-0.0025},{"x":-0.009,"y":-0.003},{"x":-0.0065,"y":-0.0025},{"x":-0.0035,"y":-0.003},{"x":-0.001,"y":-0.0025},{"x":0.0015,"y":-0.003},{"x":0.0045,"y":-0.0025},{"x":0.007,"y":-0.003},{"x":0.0095,"y":-0.0025},{"x":0.0125,"y":-0.003},{"x":0.015,"y":-0.0025},{"x":0.0175,"y":-0.003},{"x":0.0205,"y":-0.0025},{"x":0.023,"y":-0.003},{"x":0.0255,"y":-0.0025},
{"x":-0.0235,"y":-0.006},{"x":-0.021,"y":-0.0055},{"x":-0.0185,"y":-0.006},{"x":-0.0155,"y":-0.0055},{"x":-0.013,"y":-0.006},{"x":-0.0105,"y":-0.0055},{"x":-0.0075,"y":-0.006},{"x":-0.005,"y":-0.0055},{"x":-0.0025,"y":-0.006},{"x":0.0005,"y":-0.0055},{"x":0.003,"y":-0.006},{"x":0.0055,"y":-0.0055},{"x":0.0085,"y":-0.006},{"x":0.011,"y":-0.0055},{"x":0.0135,"y":-0.006},{"x":0.0165,"y":-0.0055},{"x":0.019,"y":-0.006},{"x":0.0215,"y":-0.0055},{"x":0.0245,"y":-0.006},{"x":0.027,"y":-0.0055},
{"x":-0.0225,"y":-0.0085},{"x":-0.0195,"y":-0.009},{"x":-0.017,"y":-0.0085},{"x":-0.0145,"y":-0.009},{"x":-0.0115,"y":-0.0085},{"x":-0.009,"y":-0.009},{"x":-0.0065,"y":-0.0085},{"x":-0.0035,"y":-0.009},{"x":-0.001,"y":-0.0085},{"x":0.0015,"y":-0.009},{"x":0.0045,"y":-0.0085},{"x":0.007,"y":-0.009},{"x":0.0095,"y":-0.0085},{"x":0.0125,"y":-0.009},{"x":0.015,"y":-0.0085},{"x":0.0175,"y":-0.009},{"x":0.0205,"y":-0.0085},{"x":0.023,"y":-0.009},{"x":0.0255,"y":-0.0085},
{"x":-0.0235,"y":-0.012},{"x":-0.021,"y":-0.0115},{"x":-0.0185,"y":-0.012},{"x":-0.0155,"y":-0.0115},{"x":-0.013,"y":-0.012},{"x":-0.0105,"y":-0.0115},{"x":-0.0075,"y":-0.012},{"x":-0.005,"y":-0.0115},{"x":-0.0025,"y":-0.012},{"x":0.0005,"y":-0.0115},{"x":0.003,"y":-0.012},{"x":0.0055,"y":-0.0115},{"x":0.0085,"y":-0.012},{"x":0.011,"y":-0.0115},{"x":0.0135,"y":-0.012},{"x":0.0165,"y":-0.0115},{"x":0.019,"y":-0.012},{"x":0.0215,"y":-0.0115},{"x":0.0245,"y":-0.012},
{"x":-0.0225,"y":-0.015},{"x":-0.0195,"y":-0.0145},{"x":-0.017,"y":-0.015},{"x":-0.0145,"y":-0.0145},{"x":-0.0115,"y":-0.015},{"x":-0.009,"y":-0.0145},{"x":-0.0065,"y":-0.015},{"x":-0.0035,"y":-0.0145},{"x":-0.001,"y":-0.015},{"x":0.0015,"y":-0.0145},{"x":0.0045,"y":-0.015},{"x":0.007,"y":-0.0145},{"x":0.0095,"y":-0.015},{"x":0.0125,"y":-0.0145},{"x":0.015,"y":-0.015},{"x":0.0175,"y":-0.0145},{"x":0.0205,"y":-0.015},{"x":0.023,"y":-0.0145},{"x":0.0255,"y":-0.015},
{"x":-0.021,"y":-0.018},{"x":-0.0185,"y":-0.0175},{"x":-0.0155,"y":-0.018},{"x":-0.013,"y":-0.0175},{"x":-0.0105,"y":-0.018},{"x":-0.0075,"y":-0.0175},{"x":-0.005,"y":-0.018},{"x":-0.0025,"y":-0.0175},{"x":0.0005,"y":-0.018},{"x":0.003,"y":-0.0175},{"x":0.0055,"y":-0.018},{"x":0.0085,"y":-0.0175},{"x":0.011,"y":-0.018},{"x":0.0135,"y":-0.0175},{"x":0.0165,"y":-0.018},{"x":0.019,"y":-0.0175},{"x":0.0215,"y":-0.018},{"x":0.0245,"y":-0.0175},
{"x":-0.0195,"y":-0.021},{"x":-0.017,"y":-0.0205},{"x":-0.0145,"y":-0.021},{"x":-0.0115,"y":-0.0205},{"x":-0.009,"y":-0.021},{"x":-0.0065,"y":-0.0205},{"x":-0.0035,"y":-0.021},{"x":-0.001,"y":-0.0205},{"x":0.0015,"y":-0.021},{"x":0.0045,"y":-0.0205},{"x":0.007,"y":-0.021},{"x":0.0095,"y":-0.0205},{"x":0.0125,"y":-0.021},{"x":0.015,"y":-0.0205},{"x":0.0175,"y":-0.021},{"x":0.0205,"y":-0.0205},{"x":0.023,"y":-0.021},
{"x":-0.0155,"y":-0.0235},{"x":-0.013,"y":-0.024},{"x":-0.0105,"y":-0.0235},{"x":-0.0075,"y":-0.024},{"x":-0.005,"y":-0.0235},{"x":-0.0025,"y":-0.024},{"x":0.0005,"y":-0.0235},{"x":0.003,"y":-0.024},{"x":0.0055,"y":-0.0235},{"x":0.0085,"y":-0.024},{"x":0.011,"y":-0.0235},{"x":0.0135,"y":-0.024},{"x":0.0165,"y":-0.0235},{"x":0.019,"y":-0.024},{"x":0.0215,"y":-0.0235},
{"x":-0.0115,"y":-0.027},{"x":-0.009,"y":-0.0265},{"x":-0.0065,"y":-0.027},{"x":-0.0035,"y":-0.0265},{"x":-0.001,"y":-0.027},{"x":0.0015,"y":-0.0265},{"x":0.0045,"y":-0.027},{"x":0.007,"y":-0.0265},{"x":0.0095,"y":-0.027},{"x":0.0125,"y":-0.0265},{"x":0.015,"y":-0.027},{"x":0.0175,"y":-0.0265},{"x":0.0205,"y":-0.027},{"x":0.023,"y":-0.0265},
{"x":-0.0075,"y":-0.03},{"x":-0.005,"y":-0.0295},{"x":-0.0025,"y":-0.03},{"x":0.0005,"y":-0.0295},{"x":0.003,"y":-0.03},{"x":0.0055,"y":-0.0295},{"x":0.0085,"y":-0.03},{"x":0.011,"y":-0.0295},{"x":0.0135,"y":-0.03},{"x":0.0165,"y":-0.0295},{"x":0.019,"y":-0.03},{"x":0.0215,"y":-0.0295},
{"x":-0.016,"y":0.033},{"x":-0.011,"y":0.033},{"x":-0.007,"y":0.033},{"x":-0.003,"y":0.033},{"x":0.001,"y":0.033},{"x":0.005,"y":0.033},{"x":0.009,"y":0.033},{"x":0.013,"y":0.033},{"x":0.017,"y":0.033},
{"x":-0.019,"y":0.03},{"x":-0.015,"y":0.03},{"x":-0.011,"y":0.03},{"x":-0.007,"y":0.03},{"x":-0.003,"y":0.03},{"x":0,"y":0.03},{"x":0.004,"y":0.03},{"x":0.008,"y":0.03},{"x":0.011,"y":0.03},{"x":0.015,"y":0.03},{"x":0.018,"y":0.03},{"x":0.022,"y":0.03},
{"x":-0.024,"y":0.027},{"x":-0.02,"y":0.027},{"x":-0.017,"y":0.027},{"x":-0.013,"y":0.027},{"x":-0.01,"y":0.027},{"x":-0.006,"y":0.027},{"x":-0.003,"y":0.027},{"x":0.001,"y":0.029},{"x":0.004,"y":0.026},{"x":0.008,"y":0.029},{"x":0.012,"y":0.027},{"x":0.015,"y":0.027},{"x":0.019,"y":0.027},{"x":0.023,"y":0.027},
{"x":-0.027,"y":0.024},{"x":-0.023,"y":0.024},{"x":-0.019,"y":0.024},{"x":-0.016,"y":0.025},{"x":-0.012,"y":0.024},{"x":-0.009,"y":0.024},{"x":-0.005,"y":0.024},{"x":0.002,"y":0.024},{"x":0.005,"y":0.024},{"x":0.012,"y":0.024},{"x":0.016,"y":0.025},{"x":0.019,"y":0.024},{"x":0.023,"y":0.024},{"x":0.027,"y":0.023},
{"x":-0.029,"y":0.021},{"x":-0.025,"y":0.021},{"x":-0.022,"y":0.022},{"x":-0.018,"y":0.021},{"x":-0.015,"y":0.021},{"x":-0.012,"y":0.022},{"x":0.018,"y":0.022},{"x":0.021,"y":0.022},{"x":0.024,"y":0.021},{"x":0.028,"y":0.02},{"x":0.031,"y":0.021},
{"x":-0.031,"y":0.0185},{"x":-0.027,"y":0.0185},{"x":-0.023,"y":0.0185},{"x":-0.019,"y":0.0185},{"x":-0.016,"y":0.0185},{"x":0.022,"y":0.0185},{"x":0.025,"y":0.0185},{"x":0.029,"y":0.0185},{"x":0.033,"y":0.0165},
{"x":-0.033,"y":0.015},{"x":-0.029,"y":0.015},{"x":-0.025,"y":0.016},{"x":-0.018,"y":0.015},{"x":0.024,"y":0.015},{"x":0.027,"y":0.015},{"x":0.03,"y":0.015},{"x":0.034,"y":0.014},{"x":0.037,"y":0.014},
{"x":-0.034,"y":0.012},{"x":-0.031,"y":0.012},{"x":-0.027,"y":0.012},{"x":-0.022,"y":0.013},{"x":0.025,"y":0.012},{"x":0.028,"y":0.013},{"x":0.031,"y":0.012},{"x":0.035,"y":0.012},{"x":0.038,"y":0.011},
{"x":-0.035,"y":0.009},{"x":-0.032,"y":0.009},{"x":-0.028,"y":0.01},{"x":-0.025,"y":0.0105},{"x":-0.022,"y":0.0095},{"x":0.026,"y":0.009},{"x":0.029,"y":0.009},{"x":0.033,"y":0.009},{"x":0.036,"y":0.008},
{"x":-0.036,"y":0.007},{"x":-0.033,"y":0.006},{"x":-0.03,"y":0.006},{"x":-0.027,"y":0.007},{"x":-0.024,"y":0.006},{"x":0.028,"y":0.006},{"x":0.031,"y":0.006},{"x":0.035,"y":0.006},{"x":0.038,"y":0.006},{"x":0.041,"y":0.005},
{"x":-0.036,"y":0.003},{"x":-0.033,"y":0.003},{"x":-0.03,"y":0.004},{"x":-0.027,"y":0.003},{"x":-0.025,"y":0.0035},{"x":0.029,"y":0.003},{"x":0.032,"y":0.003},{"x":0.035,"y":0.003},{"x":0.039,"y":0.003},{"x":0.042,"y":0.003},
{"x":-0.037,"y":0},{"x":-0.034,"y":0},{"x":-0.031,"y":0},{"x":-0.028,"y":0},{"x":-0.026,"y":0.0005},{"x":0.028,"y":0},{"x":0.031,"y":0.001},{"x":0.034,"y":0},{"x":0.037,"y":0.001},{"x":0.04,"y":0},{"x":0.044,"y":0.001},
{"x":-0.037,"y":-0.003},{"x":-0.034,"y":-0.001},{"x":-0.031,"y":-0.003},{"x":-0.028,"y":-0.003},{"x":0.028,"y":-0.0035},{"x":0.031,"y":-0.003},{"x":0.034,"y":-0.002},{"x":0.037,"y":-0.002},{"x":0.04,"y":-0.002},{"x":0.043,"y":-0.002},{"x":0.047,"y":-0.002},
{"x":-0.037,"y":-0.006},{"x":-0.034,"y":-0.005},{"x":-0.031,"y":-0.006},{"x":-0.027,"y":-0.006},{"x":0.03,"y":-0.006},{"x":0.033,"y":-0.006},{"x":0.036,"y":-0.005},{"x":0.039,"y":-0.006},{"x":0.042,"y":-0.005},{"x":0.045,"y":-0.006},
{"x":-0.036,"y":-0.009},{"x":-0.033,"y":-0.009},{"x":-0.03,"y":-0.009},{"x":-0.027,"y":-0.009},{"x":-0.025,"y":-0.0085},{"x":0.029,"y":-0.009},{"x":0.032,"y":-0.009},{"x":0.035,"y":-0.009},{"x":0.038,"y":-0.01},{"x":0.041,"y":-0.009},{"x":0.044,"y":-0.01},
{"x":-0.036,"y":-0.012},{"x":-0.033,"y":-0.013},{"x":-0.03,"y":-0.012},{"x":-0.027,"y":-0.012},{"x":0.028,"y":-0.012},{"x":0.031,"y":-0.014},{"x":0.034,"y":-0.012},{"x":0.037,"y":-0.013},{"x":0.04,"y":-0.014},{"x":0.043,"y":-0.014},
{"x":-0.035,"y":-0.017},{"x":-0.032,"y":-0.016},{"x":-0.029,"y":-0.015},{"x":-0.026,"y":-0.0125},{"x":0.028,"y":-0.0145},{"x":0.031,"y":-0.016},{"x":0.034,"y":-0.017},{"x":0.037,"y":-0.017},{"x":0.04,"y":-0.017},{"x":0.043,"y":-0.017},
{"x":-0.034,"y":-0.021},{"x":-0.031,"y":-0.021},{"x":-0.028,"y":-0.021},{"x":-0.024,"y":-0.021},{"x":0.027,"y":-0.0175},{"x":0.03,"y":-0.019},{"x":0.033,"y":-0.019},{"x":0.036,"y":-0.021},{"x":0.039,"y":-0.021},{"x":0.042,"y":-0.021},
{"x":-0.033,"y":-0.025},{"x":-0.03,"y":-0.024},{"x":-0.027,"y":-0.024},{"x":-0.024,"y":-0.024},{"x":-0.021,"y":-0.024},{"x":-0.018,"y":-0.024},{"x":0.026,"y":-0.0205},{"x":0.029,"y":-0.023},{"x":0.032,"y":-0.024},{"x":0.036,"y":-0.025},{"x":0.039,"y":-0.025},
{"x":-0.032,"y":-0.028},{"x":-0.029,"y":-0.027},{"x":-0.026,"y":-0.027},{"x":-0.023,"y":-0.027},{"x":-0.02,"y":-0.027},{"x":-0.017,"y":-0.027},{"x":-0.014,"y":-0.026},{"x":0.025,"y":-0.0275},{"x":0.028,"y":-0.027},{"x":0.031,"y":-0.027},{"x":0.035,"y":-0.029},{"x":0.038,"y":-0.029},
{"x":-0.03,"y":-0.032},{"x":-0.027,"y":-0.03},{"x":-0.024,"y":-0.03},{"x":-0.021,"y":-0.03},{"x":-0.018,"y":-0.03},{"x":-0.015,"y":-0.03},{"x":-0.012,"y":-0.0305},{"x":-0.009,"y":-0.03},{"x":0.024,"y":-0.03},{"x":0.027,"y":-0.03},{"x":0.03,"y":-0.029},{"x":0.033,"y":-0.03},{"x":0.036,"y":-0.034},
{"x":-0.028,"y":-0.033},{"x":-0.025,"y":-0.033},{"x":-0.022,"y":-0.033},{"x":-0.019,"y":-0.033},{"x":-0.016,"y":-0.034},{"x":-0.013,"y":-0.033},{"x":-0.01,"y":-0.033},{"x":-0.007,"y":-0.033},{"x":-0.003,"y":-0.033},{"x":0.001,"y":-0.033},{"x":0.004,"y":-0.033},{"x":0.008,"y":-0.033},{"x":0.011,"y":-0.033},{"x":0.015,"y":-0.033},{"x":0.018,"y":-0.033},{"x":0.021,"y":-0.033},{"x":0.025,"y":-0.033},{"x":0.028,"y":-0.033},{"x":0.031,"y":-0.033},{"x":0.034,"y":-0.033},
{"x":-0.024,"y":-0.037},{"x":-0.021,"y":-0.036},{"x":-0.017,"y":-0.037},{"x":-0.014,"y":-0.037},{"x":-0.01,"y":-0.037},{"x":-0.007,"y":-0.036},{"x":-0.003,"y":-0.036},{"x":0.001,"y":-0.036},{"x":0.004,"y":-0.036},{"x":0.008,"y":-0.036},{"x":0.012,"y":-0.036},{"x":0.015,"y":-0.036},{"x":0.018,"y":-0.036},{"x":0.022,"y":-0.036},{"x":0.025,"y":-0.036},{"x":0.029,"y":-0.036},{"x":0.032,"y":-0.037},
{"x":-0.016,"y":-0.039},{"x":-0.012,"y":-0.039},{"x":-0.009,"y":-0.04},{"x":-0.006,"y":-0.039},{"x":-0.003,"y":-0.039},{"x":-0.0005,"y":-0.039},{"x":0.003,"y":-0.039},{"x":0.006,"y":-0.039},{"x":0.01,"y":-0.039},{"x":0.013,"y":-0.039},{"x":0.016,"y":-0.039},{"x":0.02,"y":-0.039},{"x":0.023,"y":-0.039},{"x":0.026,"y":-0.039},{"x":0.03,"y":-0.041},
{"x":-0.006,"y":-0.042},{"x":-0.003,"y":-0.043},{"x":0.001,"y":-0.042},{"x":0.004,"y":-0.043},{"x":0.007,"y":-0.042},{"x":0.011,"y":-0.042},{"x":0.014,"y":-0.043},{"x":0.017,"y":-0.042},{"x":0.02,"y":-0.043},{"x":0.024,"y":-0.042},{"x":0.027,"y":-0.042},
{"x":-0.0178,"y":0.0128},{"x":-0.0152,"y":0.0128},{"x":-0.0122,"y":0.0128},{"x":-0.0098,"y":0.0128},{"x":-0.0072,"y":0.0128},{"x":-0.0042,"y":0.0128},{"x":-0.0018,"y":0.0128},{"x":0.0012,"y":0.0128},{"x":0.0038,"y":0.0128},{"x":0.0062,"y":0.0128},{"x":0.0092,"y":0.0128},{"x":0.0118,"y":0.0128},{"x":0.0142,"y":0.0128},{"x":0.0172,"y":0.0128},{"x":0.0198,"y":0.0128},
{"x":-0.0168,"y":0.0098},{"x":-0.0138,"y":0.0098},{"x":-0.0112,"y":0.0098},{"x":-0.0088,"y":0.0098},{"x":-0.0058,"y":0.0098},{"x":-0.0032,"y":0.0098},{"x":-0.0002,"y":0.0098},{"x":0.0022,"y":0.0098},{"x":0.0048,"y":0.0098},{"x":0.0078,"y":0.0098},{"x":0.0102,"y":0.0098},{"x":0.0128,"y":0.0098},{"x":0.0158,"y":0.0098},{"x":0.0182,"y":0.0098},{"x":0.0208,"y":0.0098},
{"x":-0.0178,"y":0.0068},{"x":-0.0152,"y":0.0068},{"x":-0.0122,"y":0.0068},{"x":-0.0098,"y":0.0068},{"x":-0.0072,"y":0.0068},{"x":-0.0042,"y":0.0068},{"x":-0.0018,"y":0.0068},{"x":0.0012,"y":0.0068},{"x":0.0038,"y":0.0068},{"x":0.0062,"y":0.0068},{"x":0.0092,"y":0.0068},{"x":0.0118,"y":0.0068},{"x":0.0142,"y":0.0068},{"x":0.0172,"y":0.0068},{"x":0.0198,"y":0.0068},{"x":0.0222,"y":0.0068},
{"x":-0.0168,"y":0.0038},{"x":-0.0138,"y":0.0038},{"x":-0.0112,"y":0.0038},{"x":-0.0088,"y":0.0038},{"x":-0.0058,"y":0.0038},{"x":-0.0032,"y":0.0038},{"x":-0.0002,"y":0.0038},{"x":0.0022,"y":0.0038},{"x":0.0048,"y":0.0038},{"x":0.0078,"y":0.0038},{"x":0.0102,"y":0.0038},{"x":0.0128,"y":0.0038},{"x":0.0158,"y":0.0038},{"x":0.0182,"y":0.0038},{"x":0.0208,"y":0.0038},
{"x":-0.0178,"y":0.0008},{"x":-0.0152,"y":0.0008},{"x":-0.0122,"y":0.0008},{"x":-0.0098,"y":0.0008},{"x":-0.0072,"y":0.0008},{"x":-0.0042,"y":0.0008},{"x":-0.0018,"y":0.0008},{"x":0.0012,"y":0.0008},{"x":0.0038,"y":0.0008},{"x":0.0062,"y":0.0008},{"x":0.0092,"y":0.0008},{"x":0.0118,"y":0.0008},{"x":0.0142,"y":0.0008},{"x":0.0172,"y":0.0008},{"x":0.0198,"y":0.0008},{"x":0.0222,"y":0.0008},
{"x":-0.0168,"y":-0.0022},{"x":-0.0138,"y":-0.0022},{"x":-0.0112,"y":-0.0022},{"x":-0.0088,"y":-0.0022},{"x":-0.0058,"y":-0.0022},{"x":-0.0032,"y":-0.0022},{"x":-0.0002,"y":-0.0022},{"x":0.0022,"y":-0.0022},{"x":0.0048,"y":-0.0022},{"x":0.0078,"y":-0.0022},{"x":0.0102,"y":-0.0022},{"x":0.0128,"y":-0.0022},{"x":0.0158,"y":-0.0022},{"x":0.0182,"y":-0.0022},{"x":0.0208,"y":-0.0022},
{"x":-0.0178,"y":-0.0052},{"x":-0.0152,"y":-0.0052},{"x":-0.0122,"y":-0.0052},{"x":-0.0098,"y":-0.0052},{"x":-0.0072,"y":-0.0052},{"x":-0.0042,"y":-0.0052},{"x":-0.0018,"y":-0.0052},{"x":0.0012,"y":-0.0052},{"x":0.0038,"y":-0.0052},{"x":0.0062,"y":-0.0052},{"x":0.0092,"y":-0.0052},{"x":0.0118,"y":-0.0052},{"x":0.0142,"y":-0.0052},{"x":0.0172,"y":-0.0052},{"x":0.0198,"y":-0.0052},{"x":0.0222,"y":-0.0052},
{"x":-0.0168,"y":-0.0082},{"x":-0.0138,"y":-0.0082},{"x":-0.0112,"y":-0.0082},{"x":-0.0088,"y":-0.0082},{"x":-0.0058,"y":-0.0082},{"x":-0.0032,"y":-0.0082},{"x":-0.0002,"y":-0.0082},{"x":0.0022,"y":-0.0082},{"x":0.0048,"y":-0.0082},{"x":0.0078,"y":-0.0082},{"x":0.0102,"y":-0.0082},{"x":0.0128,"y":-0.0082},{"x":0.0158,"y":-0.0082},{"x":0.0182,"y":-0.0082},{"x":0.0208,"y":-0.0082},
{"x":-0.0178,"y":-0.0112},{"x":-0.0152,"y":-0.0112},{"x":-0.0122,"y":-0.0112},{"x":-0.0098,"y":-0.0112},{"x":-0.0072,"y":-0.0112},{"x":-0.0042,"y":-0.0112},{"x":-0.0018,"y":-0.0112},{"x":0.0012,"y":-0.0112},{"x":0.0038,"y":-0.0112},{"x":0.0062,"y":-0.0112},{"x":0.0092,"y":-0.0112},{"x":0.0118,"y":-0.0112},{"x":0.0142,"y":-0.0112},{"x":0.0172,"y":-0.0112},{"x":0.0198,"y":-0.0112},{"x":0.0222,"y":-0.0112},
{"x":-0.0168,"y":-0.0142},{"x":-0.0138,"y":-0.0142},{"x":-0.0112,"y":-0.0142},{"x":-0.0088,"y":-0.0142},{"x":-0.0058,"y":-0.0142},{"x":-0.0032,"y":-0.0142},{"x":-0.0002,"y":-0.0142},{"x":0.0022,"y":-0.0142},{"x":0.0048,"y":-0.0142},{"x":0.0078,"y":-0.0142},{"x":0.0102,"y":-0.0142},{"x":0.0128,"y":-0.0142},{"x":0.0158,"y":-0.0142},{"x":0.0182,"y":-0.0142},{"x":0.0208,"y":-0.0142},
{"x":-0.0178,"y":-0.0172},{"x":-0.0152,"y":-0.0172},{"x":-0.0122,"y":-0.0172},{"x":-0.0098,"y":-0.0172},{"x":-0.0072,"y":-0.0172},{"x":-0.0042,"y":-0.0172},{"x":-0.0018,"y":-0.0172},{"x":0.0012,"y":-0.0172},{"x":0.0038,"y":-0.0172},{"x":0.0062,"y":-0.0172},{"x":0.0092,"y":-0.0172},{"x":0.0118,"y":-0.0172},{"x":0.0142,"y":-0.0172},{"x":0.0172,"y":-0.0172},{"x":0.0198,"y":-0.0172},{"x":0.0222,"y":-0.0172},
{"x":-0.0168,"y":-0.0202},{"x":-0.0138,"y":-0.0202},{"x":-0.0112,"y":-0.0202},{"x":-0.0088,"y":-0.0202},{"x":-0.0058,"y":-0.0202},{"x":-0.0032,"y":-0.0202},{"x":-0.0002,"y":-0.0202},{"x":0.0022,"y":-0.0202},{"x":0.0048,"y":-0.0202},{"x":0.0078,"y":-0.0202},{"x":0.0102,"y":-0.0202},{"x":0.0128,"y":-0.0202},{"x":0.0158,"y":-0.0202},{"x":0.0182,"y":-0.0202},{"x":0.0208,"y":-0.0202}
],
"mid":[
{"x":-0.047,"y":0.064},{"x":0.0009,"y":0.0667},{"x":-0.0103,"y":0.0558},{"x":-0.0397,"y":0.0509},{"x":-0.0275,"y":0.0442},{"x":-0.0343,"y":0.039},{"x":0.0354,"y":0.0398},{"x":-0.0608,"y":0.032},{"x":-0.0615,"y":0.026},{"x":-0.0512,"y":0.0225},{"x":-0.0349,"y":0.023},{"x":0.0031,"y":0.0238},{"x":0.0064,"y":0.0192},{"x":0.0156,"y":0.0255},{"x":-0.0265,"y":0.0154},{"x":0.0018,"y":0.0125},{"x":0.007,"y":0.0103},{"x":0.0509,"y":0.0125},{"x":0.0206,"y":0.0098},{"x":0.0584,"y":0.007},{"x":0.0182,"y":0.0024},{"x":-0.0913,"y":0.0084},{"x":-0.0854,"y":-0.0122},{"x":-0.074,"y":-0.01},{"x":0.0266,"y":-0.0049},{"x":0.0329,"y":-0.007},{"x":0.0057,"y":-0.0092},{"x":0.0077,"y":-0.0133},{"x":-0.0211,"y":-0.007},{"x":-0.007,"y":-0.0165},{"x":-0.0097,"y":-0.02},{"x":-0.0242,"y":-0.0171},{"x":-0.0224,"y":-0.0255},{"x":-0.0556,"y":-0.0263},{"x":-0.0386,"y":-0.0306},{"x":-0.0261,"y":-0.0341},{"x":-0.0158,"y":-0.0287},{"x":-0.007,"y":-0.0325},{"x":0.0059,"y":-0.0344},{"x":-0.0132,"y":-0.0366},{"x":-0.058,"y":-0.0442},{"x":0.0176,"y":-0.0179},{"x":0.027,"y":-0.0179},{"x":0.0277,"y":-0.0192},{"x":0.02,"y":-0.0393},{"x":0.0103,"y":-0.0423},{"x":0.0057,"y":-0.0439},{"x":0.0145,"y":-0.0509},{"x":0.0143,"y":-0.0623},{"x":0.0097,"y":-0.0637},{"x":0.0485,"y":-0.043},{"x":-0.0128,"y":-0.0005}
],
"black":[
{"x":-0.0187,"y":0.0656},{"x":0.0013,"y":0.0596},{"x":0.0424,"y":0.0691},{"x":-0.0529,"y":0.035},{"x":-0.0094,"y":0.0347},{"x":0.0029,"y":0.0366},{"x":0.0105,"y":0.0396},{"x":-0.0209,"y":0.023},{"x":-0.0277,"y":0.0179},{"x":0.0053,"y":0.0214},{"x":0.0206,"y":0.0084},{"x":0.0246,"y":0.0062},{"x":-0.0046,"y":0.0051},{"x":0.0108,"y":0.0011},{"x":0.0285,"y":0},{"x":0.0876,"y":-0.0054},{"x":0.0949,"y":-0.0035},{"x":0.0231,"y":-0.0182},{"x":-0.0584,"y":-0.0211},{"x":-0.013,"y":-0.023},{"x":0.0578,"y":-0.0225},{"x":0.0198,"y":-0.0266},{"x":0.0437,"y":-0.0287},{"x":0.083,"y":-0.0309},{"x":0.0641,"y":-0.0417},{"x":0.0525,"y":-0.0493},{"x":0.0455,"y":-0.0566}
],
"red":[{"x":0.0235,"y":-0.0084},{"x":0.0523,"y":-0.0238},{"x":0.0602,"y":-0.0485}],
"big":[{"x":-0.0171,"y":-0.008,"group":"Noise"},{"x":0.0751,"y":-0.0132,"group":"Lack of sleep"},{"x":0.0365,"y":-0.0213,"group":"Combined"},{"x":0.0512,"y":-0.0432,"group":"Nightmares"},{"x":0.029,"y":-0.056,"group":"Severe anxiety and sleep disturbances"}],
"labels":[{"x":-0.0631,"y":-0.0023,"label":"Noise"},{"x":0.0572,"y":-0.0023,"label":"Lack of sleep"},{"x":0.0572,"y":-0.0682,"label":"Nightmares"},{"x":-0.0631,"y":-0.0813,"label":"Severe anxiety"},{"x":-0.0631,"y":-0.1017,"label":"and sleep"},{"x":-0.0631,"y":-0.1222,"label":"disturbances"}]
},
"encoding":{
"x":{"field":"x","type":"quantitative","scale":{"domain":[-0.15,0.15],"nice":false,"zero":false},"axis":{"title":null,"values":[-0.15,-0.1,-0.05,0,0.05,0.1,0.15],"grid":false,"domain":true,"domainColor":"#000000","domainWidth":5,"ticks":true,"tickColor":"#000000","tickWidth":5,"tickSize":22,"labelFont":"DejaVu Sans","labelFontSize":61,"labelColor":"#000000","labelPadding":17,"labelLimit":0,"labelOverlap":false,"labelBound":false,"labelFlush":false,"labelExpr":"replace(format(datum.value,'.2f'),'-','\u2212')"}},
"y":{"field":"y","type":"quantitative","scale":{"domain":[-0.15,0.15],"nice":false,"zero":false},"axis":{"title":null,"values":[-0.15,-0.1,-0.05,0,0.05,0.1,0.15],"grid":false,"domain":true,"domainColor":"#000000","domainWidth":5,"ticks":true,"tickColor":"#000000","tickWidth":5,"tickSize":22,"labelFont":"DejaVu Sans","labelFontSize":61,"labelColor":"#000000","labelPadding":22,"labelOffset":3,"labelLimit":0,"labelOverlap":false,"labelBound":false,"labelFlush":false,"labelExpr":"replace(format(datum.value,'.2f'),'-','\u2212')"}}
},
"layer":[
{"data":{"name":"light"},"mark":{"type":"circle","size":272,"color":"#d3d3d3","opacity":1}},
{"data":{"name":"mid"},"mark":{"type":"circle","size":272,"color":"#808080","opacity":1}},
{"data":{"name":"black"},"mark":{"type":"circle","size":272,"color":"#000000","opacity":1}},
{"data":{"name":"red"},"mark":{"type":"circle","size":250,"color":"#ff0000","opacity":1}},
{"data":{"name":"big"},"mark":{"type":"circle","size":3600,"opacity":1},"encoding":{"color":{"field":"group","type":"nominal","legend":null,"scale":{"domain":["Noise","Lack of sleep","Combined","Nightmares","Severe anxiety and sleep disturbances"],"range":["#00a5bd","#0033dd","#00e600","#660099","#009912"]}}}},
{"data":{"name":"labels"},"mark":{"type":"text","font":"Liberation Sans","fontSize":101.5,"color":"#4d4d4d","align":"left","baseline":"alphabetic"},"encoding":{"text":{"field":"label","type":"nominal"}}}
]
}
